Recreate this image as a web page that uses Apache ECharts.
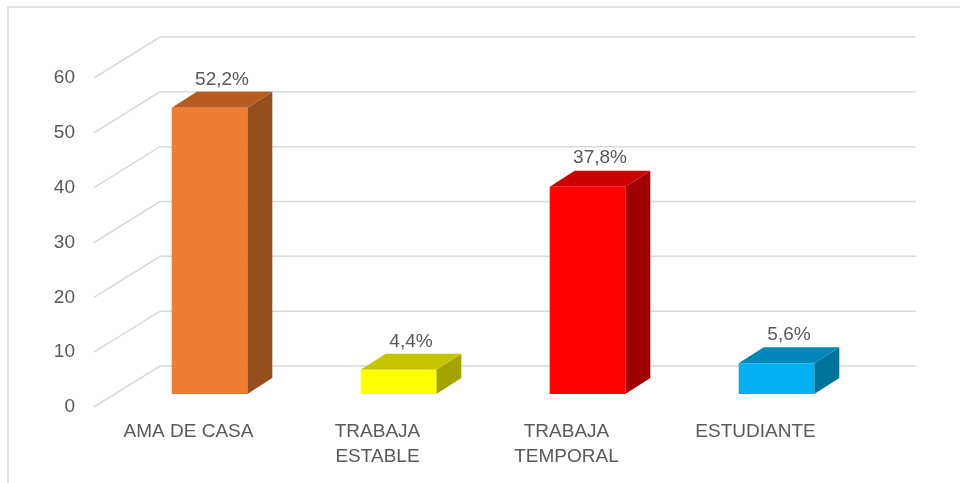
<!DOCTYPE html>
<html>
<head>
<meta charset="utf-8">
<script src="https://cdn.jsdelivr.net/npm/echarts@6.0.0/dist/echarts.min.js"></script>
<style>
  html, body { margin: 0; padding: 0; background: #fff; }
  #chart { width: 960px; height: 483px; }
</style>
</head>
<body>
<div id="chart"></div>
<script>
const categories = ['AMA DE CASA', 'TRABAJA\nESTABLE', 'TRABAJA\nTEMPORAL', 'ESTUDIANTE'];
const values = [52.2, 4.4, 37.8, 5.6];
const yTicks = [0, 10, 20, 30, 40, 50, 60];

const frontColors = ['#ed7d31', '#ffff00', '#ff0000', '#00b0f0'];
const topColors = ['#b65c22', '#c4c400', '#cc0000', '#0086b8'];
const sideColors = ['#954f1e', '#a3a300', '#a00000', '#00739c'];

const textColor = '#595959';
const gridColor = '#d9d9d9';
const font = '"Liberation Sans", Arial, sans-serif';

// floor depth and where the bar sits in it
const depth = { dx: 66, dy: -41 };
const barOffset = { dx: 21, dy: -13 };
const barDepth = { dx: 25, dy: -16 };

const chart = echarts.init(document.getElementById('chart'));

function renderWall(params, api) {
  const p = api.coord([0, api.value(1)]);
  const band = api.size([1, 0])[0];
  const x0 = p[0] - band / 2;
  const w = band * categories.length;
  return {
    type: 'polyline',
    shape: {
      points: [
        [x0, p[1]],
        [x0 + depth.dx, p[1] + depth.dy],
        [x0 + depth.dx + w, p[1] + depth.dy],
      ],
    },
    style: { stroke: gridColor, lineWidth: 1.5, fill: null },
    silent: true,
  };
}

function renderBar(params, api) {
  const i = params.dataIndex;
  const base = api.coord([i, 0]);
  const top = api.coord([i, api.value(1)]);
  const band = api.size([1, 0])[0];
  const bw = band * 0.4;
  const cx = base[0] + barOffset.dx;
  const L = cx - bw / 2;
  const R = cx + bw / 2;
  const yb = base[1] + barOffset.dy;
  const yt = top[1] + barOffset.dy;
  const dx = barDepth.dx;
  const dy = barDepth.dy;
  const label = api.value(1).toFixed(1).replace('.', ',') + '%';
  return {
    type: 'group',
    children: [
      {
        type: 'polygon',
        shape: { points: [[R, yt], [R + dx, yt + dy], [R + dx, yb + dy], [R, yb]] },
        style: { fill: sideColors[i] },
      },
      {
        type: 'polygon',
        shape: { points: [[L, yt], [L + dx, yt + dy], [R + dx, yt + dy], [R, yt]] },
        style: { fill: topColors[i] },
      },
      {
        type: 'rect',
        shape: { x: L, y: yt, width: bw, height: yb - yt },
        style: { fill: frontColors[i] },
      },
      {
        type: 'text',
        x: cx + dx / 2,
        y: yt + dy - 3,
        style: {
          text: label,
          fill: textColor,
          font: '19px ' + font,
          align: 'center',
          verticalAlign: 'bottom',
        },
      },
    ],
  };
}

chart.setOption({
  animation: false,
  graphic: [
    {
      type: 'rect',
      shape: { x: 8, y: 7, width: 1000, height: 600 },
      style: { fill: null, stroke: gridColor, lineWidth: 1.5 },
      silent: true,
    },
  ],
  grid: {
    left: 94,
    right: 110,
    top: 78,
    bottom: 76,
  },
  xAxis: {
    type: 'category',
    data: categories,
    axisLine: { show: false },
    axisTick: { show: false },
    axisLabel: {
      color: textColor,
      fontSize: 19,
      fontFamily: font,
      lineHeight: 25,
      margin: 12,
      interval: 0,
    },
  },
  yAxis: {
    type: 'value',
    min: 0,
    max: 60,
    interval: 10,
    splitLine: { show: false },
    axisLine: { show: false },
    axisTick: { show: false },
    axisLabel: {
      color: textColor,
      fontSize: 19,
      fontFamily: font,
      margin: 19,
    },
  },
  series: [
    {
      type: 'custom',
      z: 1,
      silent: true,
      renderItem: renderWall,
      data: yTicks.map((v) => [0, v]),
    },
    {
      type: 'custom',
      z: 2,
      renderItem: renderBar,
      data: values.map((v, i) => [i, v]),
    },
  ],
});
</script>
</body>
</html>
